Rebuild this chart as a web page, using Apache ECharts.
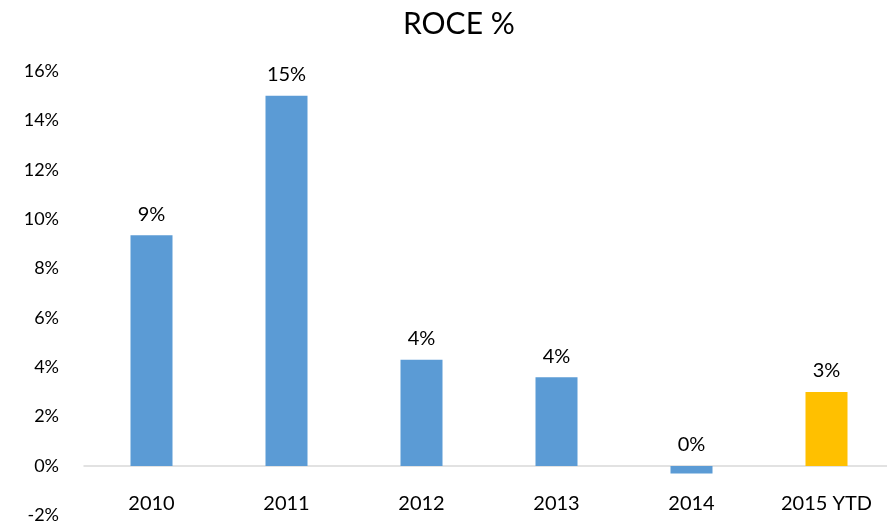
<!DOCTYPE html>
<html><head><meta charset="utf-8">
<script src="https://cdn.jsdelivr.net/npm/echarts@6/dist/echarts.min.js"></script>
<style>html,body{margin:0;padding:0;background:#fff}#c{width:887px;height:528px}</style>
</head><body><div id="c"></div>
<script>
const categories = ['2010', '2011', '2012', '2013', '2014', '2015 YTD'];
const roceValues = [9.35, 15.0, 4.3, 3.6, -0.3, 3.0];
const barColors = ['#5B9BD5', '#5B9BD5', '#5B9BD5', '#5B9BD5', '#5B9BD5', '#FFC000'];
const yTicks = { min: -2, max: 16, interval: 2 };

const font = 'Lato, "Liberation Sans", sans-serif';
const chart = echarts.init(document.getElementById('c'));
chart.setOption({
  animation: false,
  title: { text: 'ROCE %', left: 398, top: 4, textStyle: { fontFamily: font, fontSize: 30, fontWeight: 'normal', color: '#000' } },
  grid: { left: 84, width: 810, top: 71, bottom: 12.6, containLabel: false, outerBoundsMode: 'none' },
  xAxis: {
    type: 'category', data: categories,
    axisLine: { onZero: true, lineStyle: { color: '#d9d9d9', width: 1.5 } },
    axisTick: { show: false },
    axisLabel: { margin: -22, fontFamily: font, fontSize: 20, color: '#000' }
  },
  yAxis: {
    type: 'value', min: yTicks.min, max: yTicks.max, interval: yTicks.interval,
    splitLine: { show: false }, axisLine: { show: false }, axisTick: { show: false },
    axisLabel: { margin: 25, fontFamily: font, fontSize: 18, color: '#000', formatter: v => v + '%' }
  },
  series: [{
    type: 'bar', barWidth: 42,
    data: roceValues.map((v, i) => ({ value: v, itemStyle: { color: barColors[i] } })),
    label: { show: true, position: 'top', distance: 11, fontFamily: font, fontSize: 20, color: '#000',
      formatter: p => `${Math.round(p.value)}%` }
  }]
});
</script></body></html>
